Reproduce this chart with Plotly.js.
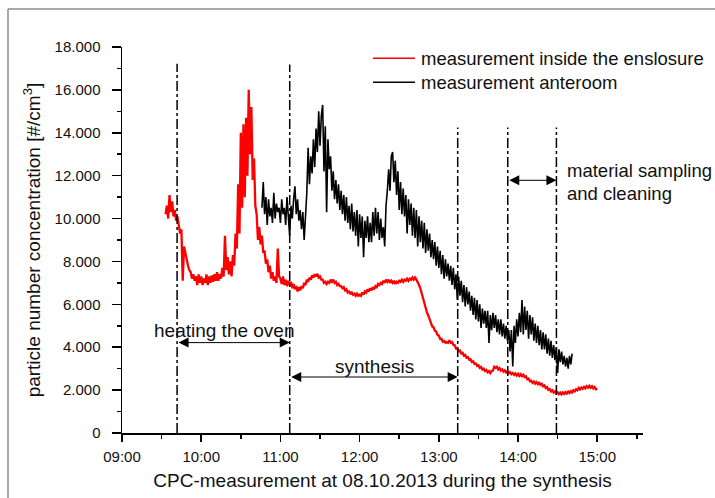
<!DOCTYPE html>
<html>
<head>
<meta charset="utf-8">
<script src="https://cdn.plot.ly/plotly-3.0.1.min.js"></script>
<style>html,body{margin:0;padding:0;background:#fff;}#chart{width:715px;height:498px;}</style>
</head>
<body>
<div id="chart"></div>
<script>
// ---- data (1-minute samples) ----
const seriesNames = ['measurement inside the enslosure', 'measurement anteroom'];
const redStart = '2013-10-08 09:33';
const blackStart = '2013-10-08 10:46';
const sampleMs = 60000;

const redValues = [
  // 09:33-09:39
  10200, 10600, 10000, 11100, 10300, 10800, 10100,
  // 09:40
  10400, 9900, 10100, 9700, 9300, 9500, 7100, 8700, 8400, 8000,
  // 09:50
  7800, 7600, 7500, 7200, 7400, 7100, 7300, 6900, 7400, 7000,
  // 10:00
  7300, 6900, 7200, 7000, 7400, 6900, 7300, 7000, 7350, 7050,
  // 10:10
  7400, 7100, 7500, 7100, 7400, 7200, 7700, 7300, 9200, 7600,
  // 10:20
  8200, 7400, 8000, 7300, 8300, 7800, 9300, 8600, 11600, 9300,
  // 10:30
  14000, 10500, 14400, 11000, 14700, 12000, 16000, 13000, 15200, 11800,
  // 10:40
  12800, 10600, 10200, 9000, 9600, 8800, 9200, 8400, 8500, 7900,
  // 10:50
  8100, 7500, 7800, 7200, 7500, 7100, 7300, 7000, 8600, 7300,
  // 11:00
  7200, 6950, 7300, 6900, 7150, 6850, 7100, 6900, 7050, 6750,
  // 11:10
  6950, 6700, 6850, 6600, 6800, 6650, 6850, 6750, 7000, 6900,
  // 11:20
  7150, 7050, 7250, 7150, 7350, 7250, 7400, 7300, 7420, 7250,
  // 11:30
  7300, 7150, 7150, 7000, 7050, 6950, 7050, 7000, 7150, 7050,
  // 11:40
  7150, 7000, 7050, 6900, 6950, 6850, 6850, 6750, 6800, 6650,
  // 11:50
  6700, 6550, 6600, 6500, 6550, 6450, 6500, 6400, 6500, 6400,
  // 12:00
  6450, 6400, 6550, 6450, 6600, 6550, 6700, 6600, 6750, 6650,
  // 12:10
  6800, 6700, 6850, 6800, 6950, 6900, 7000, 6950, 7100, 7000,
  // 12:20
  7150, 7050, 7150, 7000, 7100, 7000, 7100, 6950, 7050, 7000,
  // 12:30
  7100, 7050, 7150, 7050, 7150, 7100, 7200, 7100, 7200, 7150,
  // 12:40
  7250, 7150, 7250, 7150, 7050, 6900, 6750, 6500, 6300, 6050,
  // 12:50
  5880, 5620, 5480, 5270, 5180, 4970, 4930, 4770, 4730, 4570,
  // 13:00
  4540, 4380, 4390, 4260, 4290, 4210, 4240, 4210, 4320, 4210,
  // 13:10
  4240, 4110, 4090, 3940, 3940, 3810, 3840, 3710, 3740, 3610,
  // 13:20
  3640, 3520, 3540, 3420, 3440, 3310, 3340, 3220, 3240, 3130,
  // 13:30
  3160, 3040, 3080, 2960, 3000, 2890, 2940, 2830, 2890, 2790,
  // 13:40
  2890, 2910, 3090, 3040, 3090, 2960, 3020, 2910, 2960, 2860,
  // 13:50
  2920, 2820, 2890, 2790, 2840, 2740, 2800, 2710, 2780, 2680,
  // 14:00
  2760, 2660, 2740, 2650, 2720, 2610, 2640, 2510, 2540, 2410,
  // 14:10
  2440, 2340, 2400, 2300, 2370, 2280, 2340, 2250, 2300, 2180,
  // 14:20
  2220, 2100, 2140, 2010, 2050, 1940, 1990, 1880, 1940, 1840,
  // 14:30
  1900, 1810, 1880, 1800, 1890, 1820, 1910, 1840, 1930, 1860,
  // 14:40
  1950, 1890, 1990, 1940, 2040, 1990, 2100, 2030, 2120, 2060,
  // 14:50
  2150, 2080, 2180, 2110, 2200, 2110, 2180, 2080, 2140, 2040,
  // 15:00
  2070
];

const blackValues = [
  // 10:46-10:49
  10500, 11700, 10200, 11000,
  // 10:50
  9700, 10900, 10100, 10500, 9800, 11200, 10000, 10700, 10300, 10500,
  // 11:00
  9800, 10900, 10200, 10500, 9700, 11000, 10100, 9200, 10600, 10000,
  // 11:10
  10900, 11500, 10200, 10900, 9900, 10400, 9500, 10300, 9000, 10000,
  // 11:20
  11200, 13300, 11600, 12900, 12100, 13700, 12400, 14200, 13100, 15000,
  // 11:30
  13400, 14800, 15300, 12200, 14300, 10300, 13700, 12300, 12900, 11300,
  // 11:40
  12200, 10900, 11800, 10700, 11600, 10400, 11300, 10200, 11100, 9900,
  // 11:50
  11000, 9800, 10600, 9500, 10700, 9400, 10300, 9200, 10400, 8700,
  // 12:00
  10200, 9100, 10100, 8200, 9900, 9100, 10100, 8900, 9800, 8900,
  // 12:10
  10300, 9200, 10500, 9300, 10300, 9000, 10000, 9100, 9600, 8700,
  // 12:20
  10600, 11300, 12300, 11300, 12900, 13100, 11700, 12700, 11100, 12200,
  // 12:30
  10400, 11700, 10200, 11400, 10100, 11100, 9300, 10900, 9700, 10700,
  // 12:40
  9200, 10500, 9100, 10400, 8700, 10100, 8900, 9900, 8600, 9800,
  // 12:50
  8400, 9500, 8500, 9300, 8200, 9000, 8100, 8900, 7800, 8700,
  // 13:00
  7700, 8500, 7400, 8300, 7200, 8100, 7300, 7900, 7100, 7800,
  // 13:10
  6900, 7700, 6700, 7400, 6200, 7300, 6400, 7100, 6100, 6900,
  // 13:20
  5900, 6800, 6000, 6600, 5700, 6400, 5500, 6300, 5300, 6200,
  // 13:30
  5200, 6000, 4900, 5800, 5100, 5700, 4900, 5700, 4200, 5500,
  // 13:40
  4800, 5600, 4900, 5500, 4700, 5300, 4600, 5300, 4500, 5100,
  // 13:50
  4400, 5000, 4300, 4800, 3800, 4800, 3100, 5000, 4200, 5300,
  // 14:00
  4500, 5600, 4700, 6200, 4600, 5900, 4800, 5700, 4400, 5500,
  // 14:10
  4600, 5400, 4300, 5100, 4200, 5000, 4100, 4800, 3900, 4700,
  // 14:20
  3900, 4600, 3700, 4400, 3600, 4300, 3500, 4100, 3400, 4000,
  // 14:30
  2800, 3900, 3300, 3800, 3200, 3600, 3100, 3500, 3000, 3600,
  // 14:40
  3200, 3700
];

// event markers (dash-dot lines) and their top values
const eventTimes = ['2013-10-08 09:41:44', '2013-10-08 11:07:03', '2013-10-08 13:14:18', '2013-10-08 13:52:13', '2013-10-08 14:29:05'];
const eventTops = [17220, 17180, 14250, 14250, 14250];

// phase labels
const phaseLabels = ['heating the oven', 'synthesis', 'material sampling', 'and cleaning'];
const phaseLabelX = ['2013-10-08 10:17:35', '2013-10-08 12:11:36', '2013-10-08 14:35:40', '2013-10-08 14:35:40'];
const phaseLabelY = [4790, 3110, 12250, 11154];
// phase arrows: [start event index, end event index], height
const phaseArrowFrom = [0, 1, 3];
const phaseArrowTo = [1, 2, 4];
const phaseArrowY = [4215, 2611, 11784];

// axis ticks
const xTickVals = ['2013-10-08 09:00', '2013-10-08 10:00', '2013-10-08 11:00', '2013-10-08 12:00', '2013-10-08 13:00', '2013-10-08 14:00', '2013-10-08 15:00'];
const xTickText = ['09:00', '10:00', '11:00', '12:00', '13:00', '14:00', '15:00'];
const yTickVals = [0, 2000, 4000, 6000, 8000, 10000, 12000, 14000, 16000, 18000];
const yTickText = ['0', '2.000', '4.000', '6.000', '8.000', '10.000', '12.000', '14.000', '16.000', '18.000'];

const xRange = ['2013-10-08 09:00', '2013-10-08 15:34:40'];
const yRange = [0, 18000];

// ---- drawing ----
const FONT = "'Liberation Sans', Arial, sans-serif";
const seriesColors = ['#ff0000', '#000000'];

const traces = [
  {type: 'scatter', mode: 'lines', name: seriesNames[0], x0: redStart, dx: sampleMs, y: redValues,
   line: {color: seriesColors[0], width: 2.3}, showlegend: false, hoverinfo: 'skip'},
  {type: 'scatter', mode: 'lines', name: seriesNames[1], x0: blackStart, dx: sampleMs, y: blackValues,
   line: {color: seriesColors[1], width: 1.6}, showlegend: false, hoverinfo: 'skip'}
];

const shapes = [];
eventTimes.forEach((t, i) => {
  shapes.push({type: 'line', xref: 'x', yref: 'y', x0: t, x1: t, y0: 0, y1: eventTops[i],
    line: {color: '#000', width: 1.5, dash: '10px,3px,3px,3px'}});
});
// outer grey frame (top and left edge of the figure box)
shapes.push({type: 'line', xref: 'paper', yref: 'paper', x0: -0.2188, x1: 1.2, y0: 1.0984, y1: 1.0984, line: {color: '#8c8c8c', width: 1.5}});
shapes.push({type: 'line', xref: 'paper', yref: 'paper', x0: -0.2188, x1: -0.2188, y0: 1.0984, y1: -0.3, line: {color: '#8c8c8c', width: 1.5}});
// legend keys
const legendKeyY = [0.9707, 0.9085];
seriesNames.forEach((n, i) => {
  shapes.push({type: 'line', xref: 'paper', yref: 'paper', x0: 0.4818, x1: 0.5624, y0: legendKeyY[i], y1: legendKeyY[i],
    line: {color: seriesColors[i], width: 1.5}});
});

const annotations = [];
phaseLabels.forEach((txt, i) => {
  annotations.push({xref: 'x', yref: 'y', x: phaseLabelX[i], y: phaseLabelY[i], text: txt, showarrow: false,
    xanchor: i >= 2 ? 'left' : 'center', yanchor: 'middle', font: {family: FONT, size: i >= 2 ? 18.5 : 19, color: '#111'}});
});
phaseArrowFrom.forEach((a, i) => {
  annotations.push({xref: 'x', yref: 'y', axref: 'x', ayref: 'y', x: eventTimes[phaseArrowTo[i]], y: phaseArrowY[i],
    ax: eventTimes[a], ay: phaseArrowY[i], text: '', showarrow: true, arrowside: 'end+start', arrowhead: 2,
    arrowsize: 2, arrowwidth: 1, arrowcolor: '#000', standoff: 0, startstandoff: 0});
});
seriesNames.forEach((n, i) => {
  annotations.push({xref: 'paper', yref: 'paper', x: 0.570, y: legendKeyY[i], text: n, showarrow: false,
    xanchor: 'left', yanchor: 'middle', font: {family: FONT, size: 18.5, color: '#111'}});
});

const layout = {
  width: 715, height: 498,
  margin: {l: 122, r: 72, t: 47, b: 65, pad: 0},
  paper_bgcolor: '#fff', plot_bgcolor: '#fff',
  font: {family: FONT, color: '#111'},
  showlegend: false,
  xaxis: {
    type: 'date', range: xRange, tickmode: 'array', tickvals: xTickVals, ticktext: xTickText,
    ticks: 'outside', ticklen: 7, tickwidth: 1.5, tickcolor: '#000',
    showline: true, linecolor: '#000', linewidth: 1.5, showgrid: false, zeroline: false,
    minor: {tick0: '2013-10-08 09:30', dtick: 3600000, ticks: 'outside', ticklen: 4, tickwidth: 1.5, tickcolor: '#000', showgrid: false},
    tickfont: {family: FONT, size: 15, color: '#111'},
    ticklabelstandoff: 2,
    title: {text: 'CPC-measurement at 08.10.2013 during the synthesis', font: {family: FONT, size: 19, color: '#111'}, standoff: 10}
  },
  yaxis: {
    range: yRange, tickmode: 'array', tickvals: yTickVals, ticktext: yTickText,
    ticks: 'outside', ticklen: 9, tickwidth: 1.5, tickcolor: '#000',
    showline: true, linecolor: '#000', linewidth: 1.5, showgrid: false, zeroline: false,
    minor: {tick0: 1000, dtick: 2000, ticks: 'outside', ticklen: 4, tickwidth: 1.5, tickcolor: '#000', showgrid: false},
    tickfont: {family: FONT, size: 15, color: '#111'},
    ticklabelstandoff: 8,
    title: {text: 'particle number concentration [#/cm<sup>3</sup>]', font: {family: FONT, size: 19, color: '#111'}, standoff: 9}
  },
  shapes: shapes,
  annotations: annotations
};

Plotly.newPlot('chart', traces, layout, {displayModeBar: false, staticPlot: true});
</script>
</body>
</html>
